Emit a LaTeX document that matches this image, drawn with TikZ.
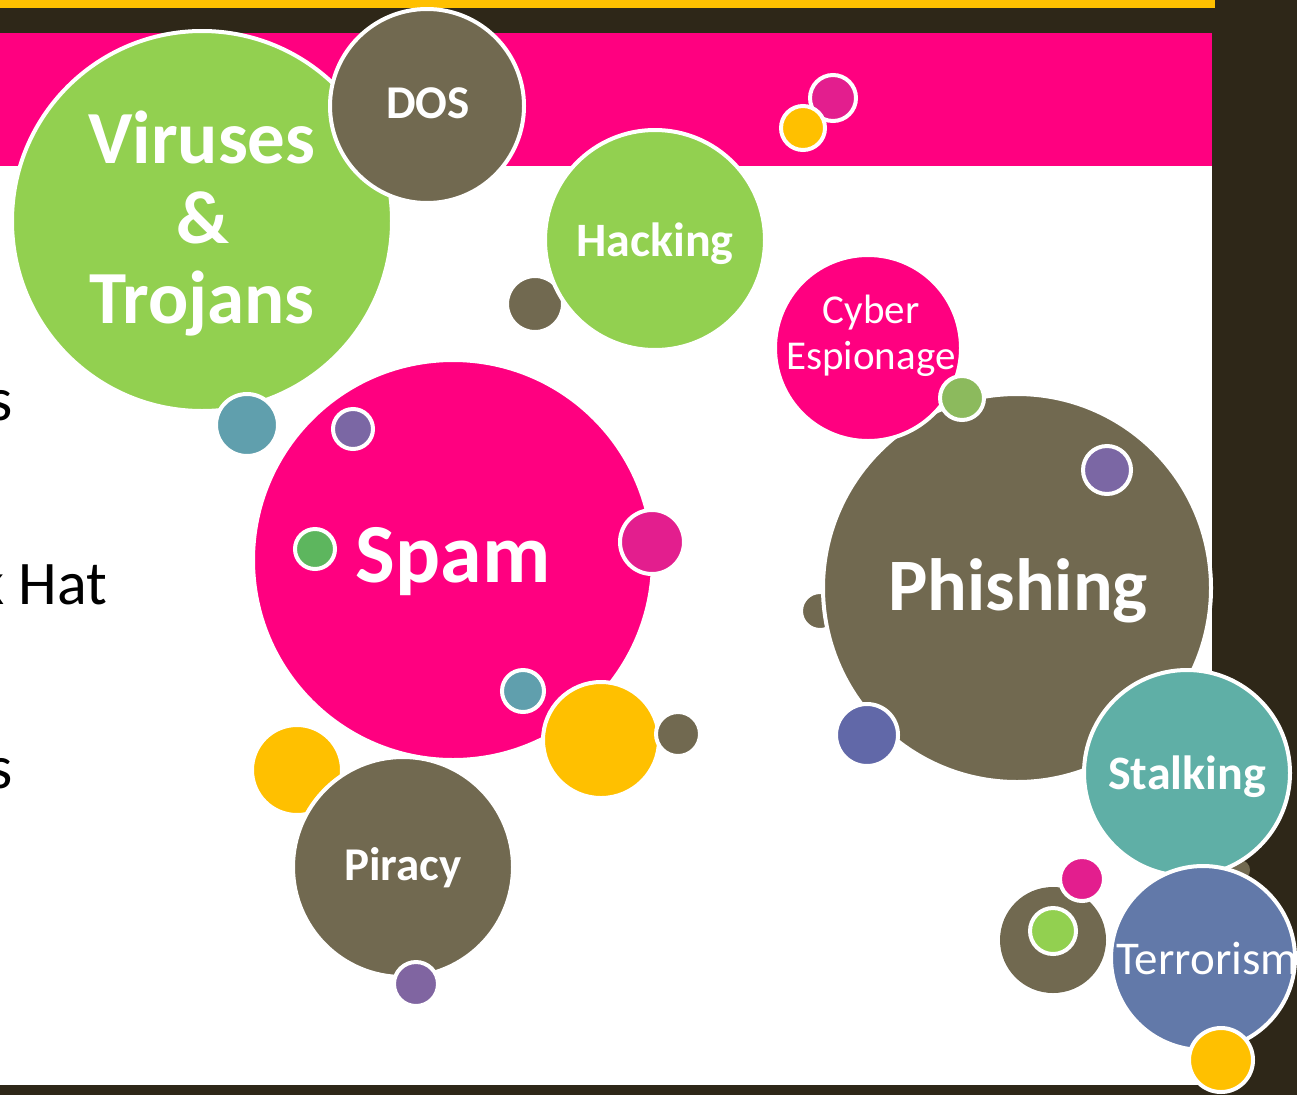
\documentclass[tikz,border=0pt]{standalone}
\usepackage{fontspec}
\setmainfont{Carlito}
\definecolor{bgdark}{HTML}{2E2718}
\definecolor{yel}{HTML}{FFC000}
\definecolor{pinkc}{HTML}{FF0080}
\definecolor{lgreen}{HTML}{92D050}
\definecolor{brownc}{HTML}{716950}
\definecolor{stalkc}{HTML}{5FAFA6}
\definecolor{terrc}{HTML}{6279A9}
\definecolor{magc}{HTML}{E31E8E}
\definecolor{steal}{HTML}{609FAD}
\definecolor{purpc}{HTML}{7B67A4}
\definecolor{purpd}{HTML}{8065A1}
\definecolor{sgreen}{HTML}{5DB65E}
\definecolor{mgreen}{HTML}{8CBA5D}
\definecolor{indigoc}{HTML}{6168A8}
\begin{document}
\begin{tikzpicture}[x=1pt,y=-1pt,
  bub/.style={circle, inner sep=0pt, draw=white, line width=4pt, minimum size=#1},
  lbl/.style={text=white, anchor=base, inner sep=0pt, font=\bfseries\fontsize{#1}{#1}\selectfont},
  lblr/.style={text=white, anchor=base, inner sep=0pt, font=\fontsize{#1}{#1}\selectfont},
  side/.style={text=black, anchor=base west, inner sep=0pt, font=\fontsize{62}{62}\selectfont}]
\useasboundingbox (0,0) rectangle (1297,1095);
\clip (0,0) rectangle (1297,1095);
% slide background
\fill[bgdark] (0,0) rectangle (1297,1095);
\fill[yel] (0,0) rectangle (1215,8);
\fill[pinkc] (0,33) rectangle (1212,166);
\fill[white] (0,166) rectangle (1212,1085);
% cut-off bullet text
\node[side] (t1) at (-12,420) {s};
\node[side] (t2) at (-24,604) {k Hat};
\node[side] (t3) at (-12,788) {s};
% Viruses & Trojans, DOS
\node[bub=380, fill=lgreen] (vir) at (202,221) {};
\node[bub=194, fill=brownc] (dos) at (427,106) {};
\node[bub=62, fill=steal] (d1) at (247,425) {};
% Hacking
\node[bub=56, fill=brownc] (d2) at (535,304) {};
\node[bub=220, fill=lgreen] (hack) at (655,240) {};
% pair in title band
\node[bub=46, fill=magc] (d3) at (833,98) {};
\node[bub=44, fill=yel] (d4) at (803,128) {};
% Phishing and Cyber Espionage
\node[bub=38, fill=brownc] (d5) at (820,611) {};
\node[bub=388, fill=brownc] (phish) at (1017,588) {};
\node[bub=186, fill=pinkc] (cyber) at (868,348) {};
\node[bub=44, fill=mgreen] (d6) at (962,398) {};
\node[bub=48, fill=purpc] (d7) at (1107,470) {};
\node[bub=62, fill=indigoc] (d8) at (867,735) {};
% Spam
\node[bub=400, fill=pinkc] (spam) at (453,560) {};
\node[bub=40, fill=purpc] (d9) at (353,429) {};
\node[bub=40, fill=sgreen] (d10) at (315,549) {};
\node[bub=64, fill=magc] (d11) at (652,542) {};
\node[bub=42, fill=steal] (d12) at (523,691) {};
\node[bub=116, fill=yel] (d13) at (601,740) {};
\node[bub=44, fill=brownc] (d14) at (678,734) {};
% Piracy
\node[bub=90, fill=yel] (d15) at (297,770) {};
\node[bub=220, fill=brownc] (pir) at (403,867) {};
\node[bub=44, fill=purpd] (d16) at (416,984) {};
% Stalking, Terrorism
\node[bub=20, fill=brownc, draw=none] (d17) at (1240,870) {};
\node[bub=206, fill=stalkc] (stalk) at (1187,773) {};
\node[bub=184, fill=terrc] (terr) at (1203,958) {};
\node[bub=64, fill=yel] (d18) at (1221,1060) {};
\node[bub=106, fill=brownc, draw=none] (ring) at (1053,940) {};
\node[bub=44, fill=magc] (d19) at (1082,879) {};
\node[bub=46, fill=lgreen] (d20) at (1053,931) {};
% labels
\node[lbl=75] (l1) at (202,163) {Viruses};
\node[lbl=75] (l2) at (203,243) {\&};
\node[lbl=75] (l3) at (202,323) {Trojans};
\node[lbl=47] (l4) at (428,118) {DOS};
\node[lbl=48] (l5) at (655,256) {Hacking};
\node[lblr=41] (l6) at (871,323) {Cyber};
\node[lblr=41] (l7) at (871,369) {Espionage};
\node[lbl=84] (l8) at (453,582) {Spam};
\node[lbl=74] (l9) at (1018,610) {Phishing};
\node[lbl=47] (l10) at (403,880) {Piracy};
\node[lbl=48] (l11) at (1187,789) {Stalking};
\node[lblr=47, anchor=base west] (l12) at (1116,974) {Terrorism};
\end{tikzpicture}
\end{document}
